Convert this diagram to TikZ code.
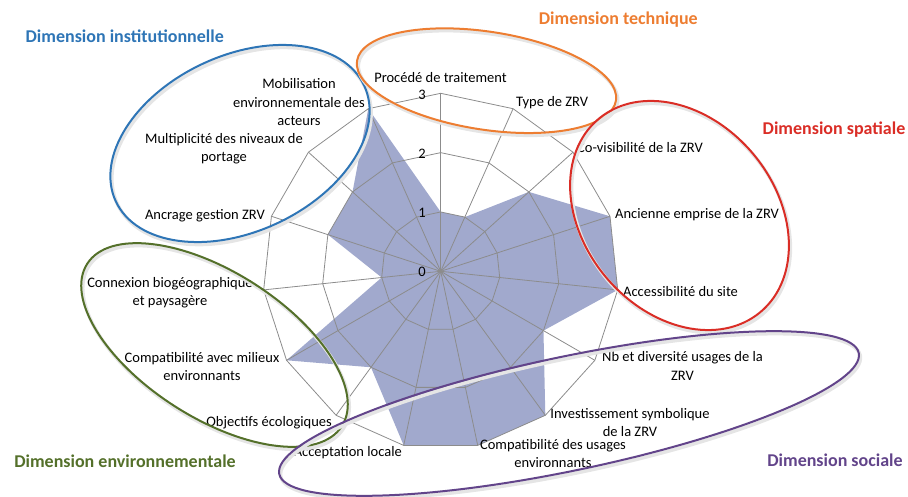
\documentclass[tikz,border=0pt]{standalone}
\usepackage{fontspec}
\setmainfont{Carlito}
\usepackage{tikz}
\usetikzlibrary{positioning}
\definecolor{radarfill}{RGB}{161,169,205}
\definecolor{gridgray}{RGB}{140,140,140}
\definecolor{instblue}{RGB}{46,117,182}
\definecolor{techorange}{RGB}{237,125,49}
\definecolor{spatred}{RGB}{218,45,38}
\definecolor{envgreen}{RGB}{84,112,42}
\definecolor{socpurple}{RGB}{98,68,138}
\tikzstyle{grid} = [draw=gridgray, line width=0.8pt]
\tikzstyle{lab} = [inner sep=0pt, align=center, font=\fontsize{14.5}{18.5}\selectfont]
\tikzstyle{tick} = [inner sep=0pt, font=\fontsize{14.5}{18.5}\selectfont]
\tikzstyle{dimtitle} = [inner sep=0pt, font=\fontsize{18}{22}\selectfont\bfseries]
\tikzstyle{ring} = [line width=2pt]
\tikzstyle{ringshadow} = [line width=3.5pt, black!10]

\begin{document}
\begin{tikzpicture}[x=1pt,y=-1pt]
    \useasboundingbox (0,0) rectangle (908,497);

    % radar centre and vertices (15 axes, 3 levels)
    \coordinate (c) at (440.7,271.3);
    \foreach \i in {0,...,14} {
        \foreach \k in {1,2,3} {
            \coordinate (v\k-\i) at ([shift={(c)}] {24*\i-90}:{59.33*\k});
        }
    }

    % scores
    \fill [radarfill] (v1-0) \foreach \i/\k in {1/1,2/2,3/3,4/3,5/2,6/3,7/3,8/3,9/2,10/3,11/1,12/2,13/2,14/3} { -- (v\k-\i) } -- cycle;

    % grid
    \foreach \k in {1,2,3} {
        \draw [grid] (v\k-0) \foreach \i in {1,...,14} { -- (v\k-\i) } -- cycle;
    }
    \foreach \i in {0,...,14} {
        \draw [grid] (c) -- (v3-\i);
    }
    \node (t0) [tick] at (422,272) {0};
    \node (t1) [tick] at (422,213) {1};
    \node (t2) [tick] at (422,154) {2};
    \node (t3) [tick] at (422,95) {3};

    % axis labels
    \node (procede) [lab] at (440.5,78) {Procédé de traitement};
    \node (type) [lab, anchor=west] at (516,103) {Type de ZRV};
    \node (covis) [lab, anchor=west] at (577,148) {Co-visibilité de la ZRV};
    \node (emprise) [lab, anchor=west] at (615,215) {Ancienne emprise de la ZRV};
    \node (acces) [lab, anchor=west] at (623,292) {Accessibilité du site};
    \node (usages) [lab] at (682.5,366) {Nb et diversité usages de la\\ ZRV};
    \node (symb) [lab] at (630,422.5) {Investissement symbolique\\ de la ZRV};
    \node (compus) [lab] at (553,453.3) {Compatibilité des usages\\ environnants};
    \node (accept) [lab, anchor=east] at (402,453) {Acceptation locale};
    \node (objeco) [lab, anchor=east] at (332,423) {Objectifs écologiques};
    \node (compmil) [lab] at (202,366.7) {Compatibilité avec milieux\\ environnants};
    \node (connex) [lab] at (170,292.8) {Connexion biogéographique\\ et paysagère};
    \node (ancrage) [lab, anchor=east] at (265,216) {Ancrage gestion ZRV};
    \node (multi) [lab] at (224,148.8) {Multiplicité des niveaux de\\ portage};
    \node (mobil) [lab] at (299,102.5) {Mobilisation\\ environnementale des\\ acteurs};

    % dimension rings
    \draw [ringshadow, rotate around={25:(241.5,146)}] (241.5,146) ellipse [x radius=137, y radius=88];
    \draw [ring, instblue, rotate around={25:(240,143.5)}] (240,143.5) ellipse [x radius=137, y radius=88];
    \draw [ringshadow, rotate around={-8.7:(488,83)}] (488,83) ellipse [x radius=131, y radius=49];
    \draw [ring, techorange, rotate around={-8.7:(486.5,80.7)}] (486.5,80.7) ellipse [x radius=131, y radius=49];
    \draw [ringshadow, rotate around={-50:(681,218)}] (681,218) ellipse [x radius=126, y radius=96];
    \draw [ring, spatred, rotate around={-50:(679.5,215.5)}] (679.5,215.5) ellipse [x radius=126, y radius=96];
    \draw [ringshadow, rotate around={-32.5:(216,347.5)}] (216,347.5) ellipse [x radius=151, y radius=73];
    \draw [ring, envgreen, rotate around={-32.5:(214.5,345)}] (214.5,345) ellipse [x radius=151, y radius=73];
    \draw [ringshadow, rotate around={11.8:(570.5,416)}] (570.5,416) ellipse [x radius=296, y radius=57];
    \draw [ring, socpurple, rotate around={11.8:(569,413.5)}] (569,413.5) ellipse [x radius=296, y radius=57];

    % dimension titles
    \node (inst) [dimtitle, text=instblue] at (124.7,36) {Dimension institutionnelle};
    \node (tech) [dimtitle, text=techorange] at (618.3,20) {Dimension technique};
    \node (spat) [dimtitle, text=spatred] at (834,129.3) {Dimension spatiale};
    \node (env) [dimtitle, text=envgreen] at (125,461.7) {Dimension environnementale};
    \node (soc) [dimtitle, text=socpurple] at (835,460) {Dimension sociale};
\end{tikzpicture}
\end{document}
